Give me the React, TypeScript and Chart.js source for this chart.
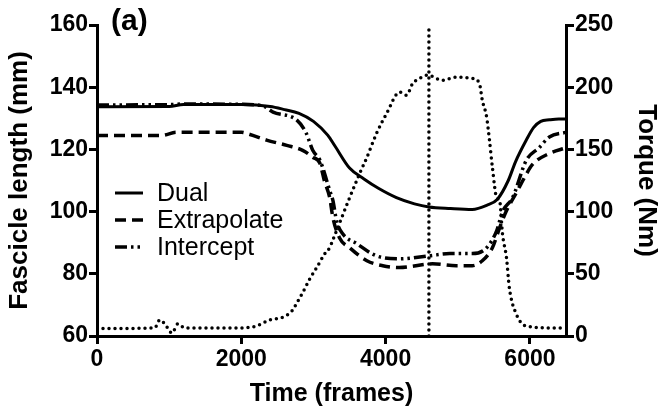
import { useEffect, useRef } from "react";
import { Chart, registerables } from "chart.js";

Chart.register(...registerables);

// Fascicle length (mm) per method, sampled over time (frames)
const dualFrames = [0, 1000, 1200, 2000, 2400, 2600, 2800, 3000, 3200, 3300, 3500, 3700, 3900, 4150, 4400, 4600, 4900, 5200, 5400, 5550, 5700, 5800, 5950, 6050, 6150, 6270, 6400, 6500];
const dualLength = [133.7, 133.8, 134.4, 134.4, 133.8, 132.8, 131.6, 129, 124.5, 121, 114, 110.5, 107.5, 104.5, 102.5, 101.5, 101, 100.7, 102, 104, 110, 116, 123, 127, 129, 129.5, 129.8, 129.8];

const extrapolateFrames = [0, 900, 1100, 2000, 2120, 2350, 2630, 2850, 2990, 3090, 3150, 3225, 3270, 3360, 3500, 3740, 3960, 4190, 4650, 4980, 5200, 5340, 5480, 5580, 5670, 5810, 5950, 6030, 6270, 6500];
const extrapolateLength = [124.5, 124.5, 125.5, 125.5, 124.8, 123, 121.3, 119.7, 117.5, 115.5, 110, 104.5, 98, 91.6, 88.4, 84.2, 82.6, 82, 83.2, 82.6, 82.6, 84.2, 88.4, 94.8, 100, 106, 112, 115, 118.7, 120.5];

const interceptFrames = [0, 1000, 1200, 2000, 2300, 2440, 2770, 2900, 2990, 3090, 3225, 3270, 3320, 3400, 3600, 3870, 4190, 4610, 4890, 5200, 5400, 5540, 5620, 5760, 5950, 6130, 6270, 6500];
const interceptLength = [134.3, 134.4, 134.6, 134.5, 134, 132, 129.4, 125.2, 119.7, 116.5, 106.8, 103.5, 97, 93, 89.7, 85.8, 84.8, 85.8, 86.5, 86.5, 88.4, 93.9, 100, 104.5, 116.5, 120.6, 124, 125.5];

// Joint torque (Nm) over the same time base
const torqueFrames = [0, 800, 870, 940, 1040, 1120, 1220, 1470, 1980, 2210, 2390, 2570, 2700, 2770, 2850, 2950, 3045, 3155, 3225, 3265, 3500, 3640, 3740, 3875, 4015, 4195, 4290, 4375, 4470, 4580, 4790, 4980, 5205, 5300, 5340, 5400, 5440, 5480, 5540, 5580, 5620, 5675, 5715, 5810, 5950, 6270, 6490];
const torqueNm = [6, 6.5, 13, 9.7, 2.4, 9.7, 6.5, 6.5, 6.5, 8, 12.9, 15, 20, 26.6, 34.7, 46, 55, 66, 71, 76.6, 111, 130.6, 143.5, 163, 179, 196, 193.5, 203, 207, 209.7, 205.6, 208, 207, 203, 189.5, 176, 157, 135.5, 111, 109, 82, 63, 38.7, 17.7, 8, 6.5, 6.5];

// Frame marked by the vertical reference line
const markerFrame = 4600;

const frameTicks = [0, 2000, 4000, 6000];
const lengthTicks = [60, 80, 100, 120, 140, 160];
const torqueTicks = [0, 50, 100, 150, 200, 250];

const seriesNames = ["Dual", "Extrapolate", "Intercept", "Torque"];
const panelLabel = "(a)";

const FONT = '"Liberation Sans", Arial, Helvetica, sans-serif';

const toPoints = (xs: number[], ys: number[]) => xs.map((x, i) => ({ x, y: ys[i] }));

// Line-sample legend drawn inside the plot, plus the panel letter
const decorations = {
  id: "decorations",
  afterDatasetsDraw(chart: any) {
    const { ctx, chartArea } = chart;
    ctx.save();
    ctx.fillStyle = "#000";
    ctx.strokeStyle = "#000";
    ctx.textBaseline = "middle";
    ctx.textAlign = "left";
    ctx.font = `25px ${FONT}`;
    for (let i = 0; i < 3; i++) {
      const ds = chart.data.datasets[i];
      const y = chartArea.top + 168 + i * 27;
      const x0 = chartArea.left + 18;
      ctx.beginPath();
      ctx.setLineDash(ds.borderDash || []);
      ctx.lineWidth = ds.borderWidth;
      ctx.lineCap = "butt";
      ctx.moveTo(x0, y);
      ctx.lineTo(x0 + 28, y);
      ctx.stroke();
      ctx.setLineDash([]);
      ctx.fillText(ds.label, x0 + 42, y + 1);
    }
    ctx.font = `bold 30px ${FONT}`;
    ctx.fillText(panelLabel, chartArea.left + 14, chartArea.top - 3);
    ctx.restore();
  },
};

const plainNumber = (v: number | string) => String(v);

const axisCommon = {
  border: { display: true, color: "#000", width: 3 },
  grid: { drawOnChartArea: false, drawTicks: true, tickLength: 8, lineWidth: 3, color: "#000" },
  ticks: { color: "#000", font: { family: FONT, size: 23, weight: "bold" as const }, padding: 1, callback: plainNumber },
};

const titleFont = { family: FONT, size: 26, weight: "bold" as const };

export default function App() {
  const canvasRef = useRef<HTMLCanvasElement | null>(null);

  useEffect(() => {
    if (!canvasRef.current) return;
    const chart = new Chart(canvasRef.current, {
      type: "line",
      data: {
        datasets: [
          {
            label: seriesNames[0],
            data: toPoints(dualFrames, dualLength),
            yAxisID: "y",
            borderColor: "#000",
            borderWidth: 3,
            cubicInterpolationMode: "monotone",
          },
          {
            label: seriesNames[1],
            data: toPoints(extrapolateFrames, extrapolateLength),
            yAxisID: "y",
            borderColor: "#000",
            borderWidth: 3.5,
            borderDash: [11, 6],
            cubicInterpolationMode: "monotone",
          },
          {
            label: seriesNames[2],
            data: toPoints(interceptFrames, interceptLength),
            yAxisID: "y",
            borderColor: "#000",
            borderWidth: 3.5,
            borderDash: [12, 4, 2.5, 4, 2.5, 4],
            cubicInterpolationMode: "monotone",
          },
          {
            label: seriesNames[3],
            data: toPoints(torqueFrames, torqueNm),
            yAxisID: "y1",
            borderColor: "#000",
            borderWidth: 3.5,
            borderDash: [0, 6],
            borderCapStyle: "round",
            cubicInterpolationMode: "monotone",
          },
          {
            label: "marker",
            data: [
              { x: markerFrame, y: lengthTicks[0] },
              { x: markerFrame, y: lengthTicks[lengthTicks.length - 1] },
            ],
            yAxisID: "y",
            borderColor: "#000",
            borderWidth: 3.5,
            borderDash: [0, 6],
            borderCapStyle: "round",
          },
        ],
      },
      options: {
        animation: false,
        responsive: false,
        maintainAspectRatio: false,
        layout: { padding: { top: 25, left: 0, right: 0, bottom: 0 } },
        elements: { point: { radius: 0, hoverRadius: 0 }, line: { fill: false } },
        plugins: { legend: { display: false }, tooltip: { enabled: false }, title: { display: false } },
        scales: {
          x: {
            type: "linear",
            min: 0,
            max: 6500,
            ...axisCommon,
            ticks: { ...axisCommon.ticks, maxRotation: 0, autoSkip: false, padding: 2 },
            afterBuildTicks: (s: any) => {
              s.ticks = frameTicks.map((value) => ({ value }));
            },
            afterFit: (s: any) => {
              s.height = 78;
            },
            title: {
              display: true,
              text: "Time (frames)",
              color: "#000",
              font: { family: FONT, size: 25, weight: "bold" },
              padding: { top: 0, bottom: 5 },
            },
          },
          y: {
            type: "linear",
            position: "left",
            min: 60,
            max: 160,
            ...axisCommon,
            afterBuildTicks: (s: any) => {
              s.ticks = lengthTicks.map((value) => ({ value }));
            },
            afterFit: (s: any) => {
              s.width = 97;
            },
            title: {
              display: true,
              text: "Fascicle length (mm)",
              color: "#000",
              font: titleFont,
              padding: { top: 4, bottom: 0 },
            },
          },
          y1: {
            type: "linear",
            position: "right",
            min: 0,
            max: 250,
            ...axisCommon,
            afterBuildTicks: (s: any) => {
              s.ticks = torqueTicks.map((value) => ({ value }));
            },
            afterFit: (s: any) => {
              s.width = 97;
            },
            title: {
              display: true,
              text: "Torque (Nm)",
              color: "#000",
              font: titleFont,
              padding: { top: 1, bottom: 0 },
            },
          },
        },
      },
      plugins: [decorations],
    });
    return () => chart.destroy();
  }, []);

  return (
    <div style={{ position: "absolute", left: 0, top: 0, width: 663, height: 414, background: "#fff" }}>
      <canvas ref={canvasRef} width={663} height={414} style={{ display: "block" }} />
    </div>
  );
}
